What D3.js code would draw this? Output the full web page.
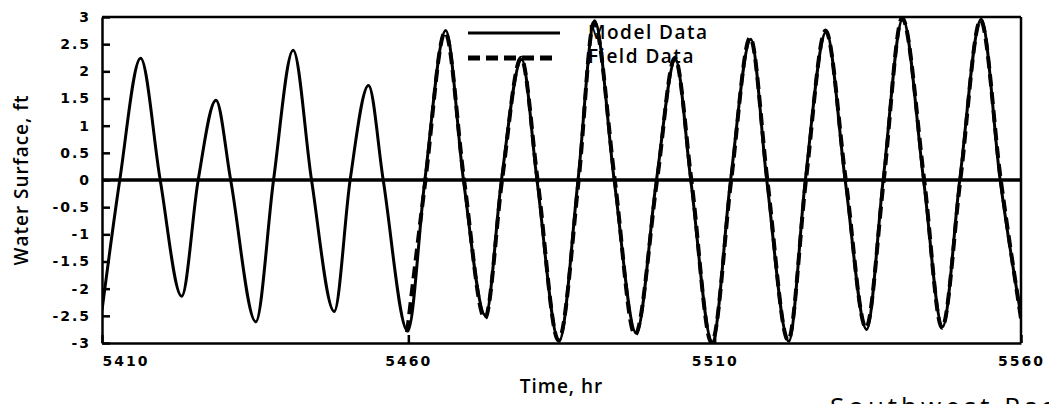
<!DOCTYPE html>
<html>
<head>
<meta charset="utf-8">
<script src="https://cdn.jsdelivr.net/npm/d3@7"></script>
<style>
  body { margin: 0; background: #fff; }
  svg { display: block; }
  .tick text { font-family: "DejaVu Sans", sans-serif; font-weight: bold; font-size: 14px; letter-spacing: 2px; fill: #000; }
  .title { font-family: "Open Sans", "DejaVu Sans", sans-serif; font-weight: 600; font-size: 19px; letter-spacing: 1px; fill: #000; }
  .legend-text { font-family: "Open Sans", "DejaVu Sans", sans-serif; font-weight: 600; font-size: 19px; letter-spacing: 1.5px; fill: #000; }
</style>
</head>
<body>
<div class="graph-container"></div>
<script>
const svgWidth = 1049;
const svgHeight = 404;
const margin = { top: 17, right: 28, bottom: 61, left: 102 };
const chartWidth = svgWidth - margin.left - margin.right;
const chartHeight = svgHeight - margin.top - margin.bottom;

// model water surface (ft) read at highs, lows and zero crossings
const modelTime = [5410.0, 5412.9, 5416.3, 5419.5, 5423.0, 5425.7, 5428.6, 5431.0, 5435.1, 5438.0,
    5441.2, 5444.2, 5447.9, 5450.5, 5453.5, 5455.9, 5459.9, 5462.7, 5466.1, 5469.0,
    5472.6, 5475.2, 5478.5, 5481.0, 5484.6, 5487.7, 5490.4, 5493.6, 5497.2, 5500.5,
    5503.6, 5506.1, 5509.6, 5512.6, 5515.9, 5518.5, 5522.1, 5524.8, 5528.2, 5531.3,
    5534.8, 5537.5, 5540.7, 5544.1, 5547.2, 5550.0, 5553.5, 5556.6, 5560.0];
const modelLevel = [-2.4, 0, 2.24, 0, -2.14, 0, 1.47, 0, -2.61, 0,
    2.39, 0, -2.42, 0, 1.74, 0, -2.78, 0, 2.75, 0,
    -2.5, 0, 2.22, 0, -2.97, 0, 2.93, 0, -2.82, 0,
    2.22, 0, -2.98, 0, 2.59, 0, -2.97, 0, 2.73, 0,
    -2.75, 0, 2.97, 0, -2.7, 0, 2.96, 0, -2.5];

// field data only starts around hour 5460
const fieldTime = [5459.8, 5462.8, 5466.0, 5469.1, 5472.5, 5475.3, 5478.4, 5481.1, 5484.5, 5487.8,
    5490.3, 5493.7, 5497.0, 5500.6, 5503.5, 5506.2, 5509.5, 5512.7, 5515.8, 5518.6,
    5522.0, 5524.9, 5528.1, 5531.4, 5534.7, 5537.6, 5540.6, 5544.2, 5547.1, 5550.1,
    5553.4, 5556.7, 5560.0];
const fieldLevel = [-2.8, 0, 2.72, 0, -2.55, 0, 2.25, 0, -2.95, 0,
    2.9, 0, -2.85, 0, 2.25, 0, -3.0, 0, 2.62, 0,
    -2.95, 0, 2.75, 0, -2.72, 0, 2.98, 0, -2.72, 0,
    2.94, 0, -2.55];

const xTicks = [5410, 5460, 5510, 5560];
const yTicks = [-3, -2.5, -2, -1.5, -1, -0.5, 0, 0.5, 1, 1.5, 2, 2.5, 3];
const yTickLabels = ["-3", "-2.5", "-2", "-1.5", "-1", "-0.5", "0", "0.5", "1", "1.5", "2", "2.5", "3"];

const xScale = d3.scaleLinear().domain([5410, 5560]).range([0, chartWidth]);
const yScale = d3.scaleLinear().domain([-3, 3]).range([chartHeight, 0]);

const svg = d3.select(".graph-container")
    .append("svg")
    .attr("width", svgWidth)
    .attr("height", svgHeight);

svg.append("rect").attr("width", svgWidth).attr("height", svgHeight).attr("fill", "#fff");

const chart = svg.append("g")
    .attr("transform", `translate(${margin.left},${margin.top})`);

chart.append("clipPath").attr("id", "plot-clip")
    .append("rect").attr("width", chartWidth).attr("height", chartHeight);

const line = d3.line()
    .x(d => xScale(d[0]))
    .y(d => yScale(d[1]))
    .curve(d3.curveMonotoneX);

const modelPoints = modelTime.map((t, i) => [t, modelLevel[i]]);
const fieldPoints = fieldTime.map((t, i) => [t, fieldLevel[i]]);

const plot = chart.append("g").attr("clip-path", "url(#plot-clip)");

plot.append("path")
    .datum(fieldPoints)
    .attr("d", line)
    .attr("fill", "none")
    .attr("stroke", "#000")
    .attr("stroke-width", 4)
    .attr("stroke-dasharray", "12,6");

plot.append("path")
    .datum(modelPoints)
    .attr("d", line)
    .attr("fill", "none")
    .attr("stroke", "#000")
    .attr("stroke-width", 3);

// zero line
chart.append("line")
    .attr("x1", 0).attr("x2", chartWidth)
    .attr("y1", yScale(0)).attr("y2", yScale(0))
    .attr("stroke", "#000").attr("stroke-width", 3.5);

// frame top and right
chart.append("line")
    .attr("x1", 0).attr("x2", chartWidth).attr("y1", 0).attr("y2", 0)
    .attr("stroke", "#000").attr("stroke-width", 2.5);
chart.append("line")
    .attr("x1", chartWidth).attr("x2", chartWidth).attr("y1", 0).attr("y2", chartHeight)
    .attr("stroke", "#000").attr("stroke-width", 2.5);

const yAxis = d3.axisLeft(yScale)
    .tickValues(yTicks)
    .tickFormat((d, i) => yTickLabels[i])
    .tickSize(-8)
    .tickSizeOuter(0)
    .tickPadding(11);
chart.append("g")
    .attr("class", "y-axis")
    .call(yAxis)
    .call(g => g.select(".domain").attr("stroke-width", 2.5))
    .call(g => g.selectAll(".tick line").attr("stroke-width", 2.5));

const xAxis = d3.axisBottom(xScale)
    .tickValues(xTicks)
    .tickFormat(d3.format("d"))
    .tickSize(-8)
    .tickSizeOuter(0)
    .tickPadding(13);
chart.append("g")
    .attr("class", "x-axis")
    .attr("transform", `translate(0,${chartHeight})`)
    .call(xAxis)
    .call(g => g.select(".domain").attr("stroke-width", 2.5))
    .call(g => g.selectAll(".tick line").attr("stroke-width", 2.5))
    .call(g => g.selectAll(".tick").filter(d => d === 5410).select("text").attr("text-anchor", "start"));

chart.append("text")
    .attr("class", "title")
    .attr("x", chartWidth / 2)
    .attr("y", chartHeight + 50)
    .attr("text-anchor", "middle")
    .text("Time, hr");

svg.append("text")
    .attr("class", "title")
    .attr("transform", `translate(28,${margin.top + chartHeight / 2}) rotate(-90)`)
    .attr("text-anchor", "middle")
    .text("Water Surface, ft");

// legend, no box: the curves run through it
const legend = svg.append("g");
legend.append("line")
    .attr("x1", 468).attr("x2", 560).attr("y1", 33).attr("y2", 33)
    .attr("stroke", "#000").attr("stroke-width", 3);
legend.append("line")
    .attr("x1", 468).attr("x2", 555).attr("y1", 58).attr("y2", 58)
    .attr("stroke", "#000").attr("stroke-width", 5)
    .attr("stroke-dasharray", "12,6");
legend.append("text").attr("class", "legend-text").attr("x", 588).attr("y", 39).text("Model Data");
legend.append("text").attr("class", "legend-text").attr("x", 588).attr("y", 63).text("Field Data");

svg.append("text")
    .attr("x", 830)
    .attr("y", 416)
    .style("font-family", "Open Sans, DejaVu Sans, sans-serif")
    .style("font-size", "26px")
    .style("letter-spacing", "4px")
    .text("Southwest Pass");
</script>
</body>
</html>
